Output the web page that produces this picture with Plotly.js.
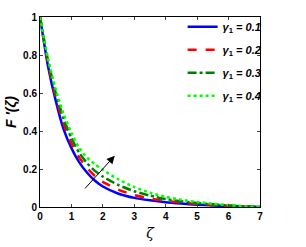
<!DOCTYPE html>
<html>
<head>
<meta charset="utf-8">
<script src="https://cdn.plot.ly/plotly-3.0.1.min.js"></script>
<style>html,body{margin:0;padding:0;background:#fff;}#chart{width:306px;height:247px;}</style>
</head>
<body>
<div id="chart"></div>
<script>
const zeta = [0, 0.25, 0.5, 0.75, 1, 1.25, 1.5, 1.75, 2, 2.5, 3, 3.5, 4, 4.5, 5, 5.5, 6, 6.5, 7];
const gamma01 = [1, 0.745, 0.56, 0.41, 0.31, 0.235, 0.18, 0.138, 0.108, 0.07, 0.048, 0.035, 0.025, 0.018, 0.012, 0.008, 0.005, 0.002, 0];
const gamma02 = [1, 0.76, 0.58, 0.44, 0.335, 0.26, 0.205, 0.163, 0.132, 0.09, 0.063, 0.045, 0.032, 0.023, 0.016, 0.011, 0.006, 0.003, 0];
const gamma03 = [1, 0.775, 0.60, 0.465, 0.362, 0.285, 0.23, 0.19, 0.16, 0.115, 0.083, 0.06, 0.042, 0.03, 0.021, 0.014, 0.008, 0.003, 0];
const gamma04 = [1, 0.785, 0.62, 0.49, 0.39, 0.31, 0.26, 0.225, 0.195, 0.145, 0.105, 0.075, 0.053, 0.038, 0.026, 0.017, 0.010, 0.004, 0];
const seriesNames = ['<i>γ</i><sub>1</sub><i> = 0.1</i>', '<i>γ</i><sub>1</sub><i> = 0.2</i>', '<i>γ</i><sub>1</sub><i> = 0.3</i>', '<i>γ</i><sub>1</sub><i> = 0.4</i>'];
const xTicks = [0, 1, 2, 3, 4, 5, 6, 7];
const yTicks = [0, 0.2, 0.4, 0.6, 0.8, 1];
const yTickText = ['0', '0.2', '0.4', '0.6', '0.8', '1'];
const arrowTail = [1.39, 0.09];
const arrowHead = [2.38, 0.27];

const series = [gamma01, gamma02, gamma03, gamma04];
const colors = ['#0000ff', '#ff0000', '#008000', '#00ff00'];
const dashes = ['solid', 'dash', 'dashdot', 'dot'];
const traces = series.map((s, i) => ({
  x: zeta, y: s, type: 'scatter', mode: 'lines', name: seriesNames[i], legendgroup: 'g' + i,
  line: {color: colors[i], width: 2.5, dash: dashes[i], shape: 'spline', smoothing: 0.6}
}));

const font = {family: 'Liberation Sans, Arial, sans-serif', size: 10, color: '#000'};
const layout = {
  width: 306, height: 247,
  margin: {l: 40, r: 46, t: 13, b: 40},
  paper_bgcolor: '#fff', plot_bgcolor: '#fff',
  font: font,
  showlegend: true,
  legend: {x: 1.03, xanchor: 'right', y: 1.025, yanchor: 'top', bgcolor: 'rgba(0,0,0,0)',
           font: {family: 'Liberation Sans, Arial, sans-serif', size: 11, color: '#000', weight: 'bold'},
           tracegroupgap: 4, itemwidth: 30},
  xaxis: {range: [0, 7], tickvals: xTicks, ticks: 'inside', ticklen: 3, mirror: 'ticks', showline: true,
          linecolor: '#000', linewidth: 1, showgrid: false, zeroline: false,
          tickfont: {family: 'Liberation Sans, Arial, sans-serif', size: 10, weight: 'bold'},
          title: {text: '<i>ζ</i>', font: {family: 'DejaVu Serif, serif', size: 14}, standoff: 7}},
  yaxis: {range: [0, 1], tickvals: yTicks, ticktext: yTickText, ticks: 'inside', ticklen: 3, mirror: 'ticks', showline: true,
          linecolor: '#000', linewidth: 1, showgrid: false, zeroline: false,
          tickfont: {family: 'Liberation Sans, Arial, sans-serif', size: 10, weight: 'bold'},
          title: {text: "<b><i>F '(ζ)</i></b>", font: {family: 'Liberation Sans, Arial, sans-serif', size: 14}, standoff: 3}},
  annotations: [{
    x: arrowHead[0], y: arrowHead[1], ax: arrowTail[0], ay: arrowTail[1],
    xref: 'x', yref: 'y', axref: 'x', ayref: 'y', text: '', showarrow: true,
    arrowhead: 2, arrowsize: 1.6, arrowwidth: 1, arrowcolor: '#000'
  }]
};
Plotly.newPlot('chart', traces, layout, {displayModeBar: false, staticPlot: true});
</script>
</body>
</html>
